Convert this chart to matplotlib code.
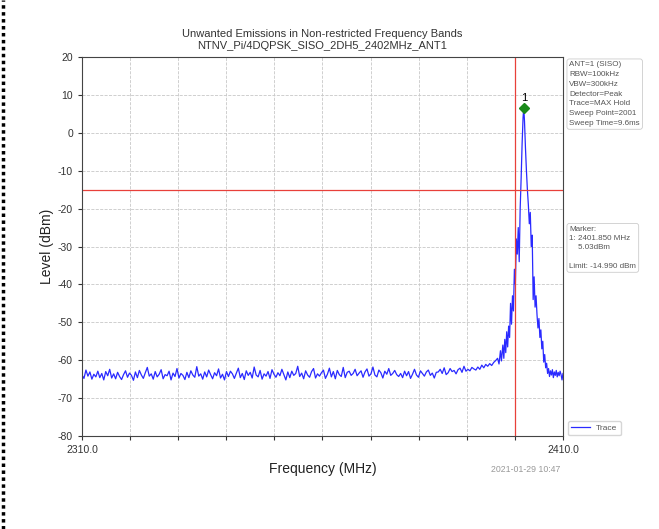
import numpy as np
import matplotlib
matplotlib.use("Agg")
import matplotlib.pyplot as plt
from matplotlib.lines import Line2D

plt.rcParams['font.family'] = ['Liberation Sans', 'DejaVu Sans']
plt.rcParams['axes.unicode_minus'] = False

# noise floor, 2310 .. 2396 MHz
noise_levels = [
    -63.9, -64.8, -62.6, -64.2, -63.1, -65.0, -63.7, -64.4, -62.9, -64.6, -63.5, -65.2, -63.0, -64.1, -62.4, -64.7, -63.6, -64.9, -63.2, -64.3,
    -65.1, -63.8, -62.8, -64.5, -63.4, -64.0, -65.3, -63.1, -64.6, -62.7, -63.9, -64.8, -63.3, -61.9, -64.2, -63.6, -65.0, -63.0, -64.4, -63.7,
    -62.5, -64.9, -63.8, -64.1, -62.9, -65.2, -63.4, -64.3, -62.2, -64.7, -63.5, -64.0, -65.1, -63.2, -64.6, -62.8, -63.9, -64.5, -61.7, -64.2,
    -63.6, -65.0, -63.1, -64.4, -62.6, -63.8, -64.9, -63.3, -64.1, -62.3, -64.7, -63.7, -65.2, -63.0, -64.3, -62.9, -63.6, -64.8, -63.4, -62.1,
    -64.6, -63.5, -65.1, -62.8, -64.0, -63.2, -64.7, -61.8, -63.9, -64.4, -62.7, -65.0, -63.6, -64.2, -63.0, -64.8, -62.5, -63.7, -64.5, -63.3,
    -64.1, -62.4, -63.8, -65.2, -63.1, -64.6, -62.9, -64.0, -63.5, -61.6, -64.3, -63.4, -64.9, -62.8, -63.9, -64.5, -63.0, -62.2, -64.7, -63.6,
    -64.2, -63.3, -62.6, -64.8, -63.7, -62.1, -64.4, -63.0, -64.9, -62.7, -63.8, -64.3, -61.9, -64.6, -63.2, -62.9, -64.0, -63.5, -62.4, -64.1,
    -63.4, -62.8, -64.5, -63.1, -62.3, -64.2, -63.6, -61.8, -63.9, -64.4, -62.6, -63.3, -64.7, -62.9, -63.7, -62.2, -64.0, -63.5, -62.7, -63.8,
    -64.3, -63.5, -64.6, -62.9, -64.1, -63.0, -64.8, -63.7, -62.4, -63.9, -64.5, -62.8, -63.5, -64.2, -63.1, -62.6, -64.0, -63.4, -64.7, -63.2,
    -63.1, -62.4, -63.5, -62.0, -63.8, -63.3, -62.2, -63.0, -62.7, -63.6, -62.5, -62.1, -63.2, -61.6, -62.9, -62.4, -62.8, -61.9, -62.3, -62.6,
    -61.8, -62.4, -61.3, -62.0, -61.1, -61.6, -60.9, -61.4, -60.6, -60.1,
]
noise_freqs = np.linspace(2310.0, 2396.0, len(noise_levels))

# emission peak around the carrier
peak_freqs = [
    2396.4, 2396.7, 2397.0, 2397.2, 2397.5, 2397.7, 2397.9, 2398.1, 2398.3, 2398.5,
    2398.7, 2398.9, 2399.1, 2399.3, 2399.5, 2399.7, 2399.9, 2400.1, 2400.3, 2400.5,
    2400.7, 2400.9, 2401.1, 2401.3, 2401.5, 2401.7, 2401.85, 2402.0, 2402.2, 2402.4,
    2402.6, 2402.8, 2403.0, 2403.2, 2403.4, 2403.6, 2403.8, 2404.0, 2404.2, 2404.4,
    2404.6, 2404.8, 2405.0, 2405.2, 2405.4, 2405.6, 2405.8, 2406.0, 2406.2, 2406.4,
    2406.6, 2406.8, 2407.0, 2407.2, 2407.4, 2407.6, 2407.8, 2408.0, 2408.2, 2408.4,
    2408.6, 2408.8, 2409.0, 2409.2, 2409.4, 2409.6, 2409.8, 2410.0,
]
peak_levels = [
    -59.5, -61.0, -57.5, -60.2, -56.0, -59.5, -54.5, -58.0, -52.5, -56.5,
    -51.0, -54.0, -45.0, -50.5, -43.0, -47.0, -36.0, -40.0, -28.0, -32.0,
    -25.0, -34.0, -20.0, -12.0, -3.0, 4.0, 6.6, 3.0, -4.0, -10.0,
    -15.0, -19.0, -24.0, -21.0, -30.0, -27.0, -44.0, -38.0, -46.0, -43.0,
    -48.0, -51.5, -49.0, -54.0, -52.0, -57.0, -55.0, -60.5, -58.5, -62.0,
    -60.8, -63.5, -62.2, -64.3, -62.8, -63.9, -62.5, -64.6, -63.1, -64.0,
    -62.7, -64.4, -63.2, -64.1, -62.9, -63.8, -65.2, -63.5,
]

freqs = np.concatenate([noise_freqs, peak_freqs])
levels = np.concatenate([noise_levels, peak_levels])

limit = -14.990
limit_freq = 2400.0
marker_freq = 2401.85
marker_level = 6.6

info_lines = ["ANT=1 (SISO)", "RBW=100kHz", "VBW=300kHz", "Detector=Peak",
              "Trace=MAX Hold", "Sweep Point=2001", "Sweep Time=9.6ms"]
marker_lines = ["Marker:", "1: 2401.850 MHz", "    5.03dBm", "", "Limit: -14.990 dBm"]

fig = plt.figure(figsize=(6.59, 5.29), dpi=100)
ax = fig.add_axes([0.1244, 0.1758, 0.7299, 0.7164])

ax.plot(freqs, levels, color='#2a2aff', lw=0.9, label='Trace')
ax.axhline(limit, color='#e8403a', lw=0.9)
ax.axvline(limit_freq, color='#e8403a', lw=0.9)
ax.plot([marker_freq], [marker_level], marker='D', color='#1a8a1a', ms=5, ls='none')
ax.text(marker_freq, marker_level + 1.4, '1', ha='center', va='bottom', fontsize=8)

ax.set_xlim(2310, 2410)
ax.set_ylim(-80, 20)
ax.set_xticks(np.arange(2310, 2411, 10))
ax.set_xticklabels(['2310.0'] + [''] * 9 + ['2410.0'])
ax.set_yticks(np.arange(-80, 21, 10))
ax.tick_params(labelsize=7.5, colors='#333333', length=3)
ax.grid(True, ls='--', color='#c8c8c8', lw=0.6)
for s in ax.spines.values():
    s.set_color('#444444')
    s.set_linewidth(0.8)

ax.set_title('Unwanted Emissions in Non-restricted Frequency Bands\nNTNV_Pi/4DQPSK_SISO_2DH5_2402MHz_ANT1',
             fontsize=8, color='#333333', linespacing=1.2, pad=6)
ax.set_xlabel('Frequency (MHz)', fontsize=10, color='#222222', labelpad=5)
ax.set_ylabel('Level (dBm)', fontsize=10, color='#222222', labelpad=3)

box = dict(boxstyle='round,pad=0.3', fc='white', ec='#cccccc', lw=0.6)
fig.text(0.864, 0.884, "\n".join(info_lines), fontsize=5.8, color='#555555',
         va='top', ha='left', linespacing=1.55, bbox=box)
fig.text(0.864, 0.573, "\n".join(marker_lines), fontsize=5.8, color='#555555',
         va='top', ha='left', linespacing=1.45, bbox=box)

ax.legend(loc='lower left', bbox_to_anchor=(1.005, -0.005), fontsize=6,
          frameon=True, fancybox=True, edgecolor='#cccccc', handlelength=2.2,
          borderaxespad=0.3, labelcolor='#555555')

fig.text(0.745, 0.108, '2021-01-29 10:47', fontsize=6.3, color='#999999')

fig.add_artist(Line2D([0.004, 0.004], [0, 1], color='black', lw=2.5, ls=(0, (1, 1))))

fig.savefig('out.png', dpi=100)
